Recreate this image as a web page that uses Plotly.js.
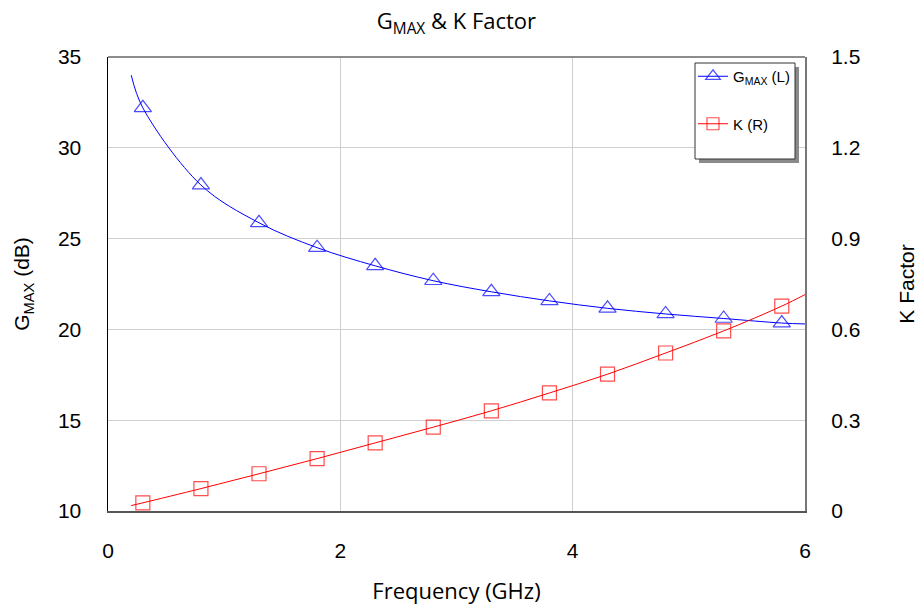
<!DOCTYPE html>
<html>
<head>
<meta charset="utf-8">
<script src="https://cdn.plot.ly/plotly-3.0.1.min.js"></script>
<style>html,body{margin:0;padding:0;background:#fff;}#chart{width:924px;height:608px;}</style>
</head>
<body>
<div id="chart"></div>
<script>
// Frequencies where markers are drawn (GHz)
const freq = [0.3, 0.8, 1.3, 1.8, 2.3, 2.8, 3.3, 3.8, 4.3, 4.8, 5.3, 5.8];
// GMAX values (dB) at marker frequencies
const gmax = [32.2, 27.95, 25.87, 24.5, 23.5, 22.68, 22.07, 21.57, 21.16, 20.85, 20.6, 20.35];
// K factor values at marker frequencies
const kfac = [0.027, 0.074, 0.123, 0.173, 0.225, 0.277, 0.331, 0.39, 0.452, 0.522, 0.595, 0.677];
// Curve end points (line runs from 0.2 to 6 GHz)
const freqStart = 0.2, freqEnd = 6.0;
const gmaxStart = 34.0, gmaxEnd = 20.3;
const kStart = 0.018, kEnd = 0.715;
// Axis ticks
const xTicks = [0, 2, 4, 6];
const yTicks = [10, 15, 20, 25, 30, 35];
const y2Ticks = [0, 0.3, 0.6, 0.9, 1.2, 1.5];
const y2TickText = ['0', '0.3', '0.6', '0.9', '1.2', '1.5'];

const lineX = [freqStart].concat(freq, [freqEnd]);
const gLine = [gmaxStart].concat(gmax, [gmaxEnd]);
const kLine = [kStart].concat(kfac, [kEnd]);
const triSizes = lineX.map((_, i) => (i === 0 || i === lineX.length - 1) ? 0 : 15);
const sqSizes = lineX.map((_, i) => (i === 0 || i === lineX.length - 1) ? 0 : 14);

const L = 108, R = 805, T = 57, B = 511, W = 924, H = 608;
const px = x => (x - L) / (R - L);
const py = y => (B - y) / (B - T);

const arial = 'Liberation Sans, Arial, sans-serif';
const segoe = 'Open Sans, Noto Sans, sans-serif';

const traces = [
  {
    x: lineX, y: gLine, name: 'G<sub>MAX</sub> (L)', legendgroup: 'g',
    mode: 'lines+markers', line: {color: '#0000ff', width: 1, shape: 'spline'},
    marker: {symbol: 'triangle-up-open', size: triSizes, color: '#0000ff', line: {color: '#0000ff', width: 1.2}},
    yaxis: 'y', hoverinfo: 'x+y'
  },
  {
    x: lineX, y: kLine, name: 'K (R)', legendgroup: 'k',
    mode: 'lines+markers', line: {color: '#ff0000', width: 1, shape: 'spline'},
    marker: {symbol: 'square-open', size: sqSizes, color: '#ff0000', line: {color: '#ff0000', width: 1.2}},
    yaxis: 'y2', hoverinfo: 'x+y'
  }
];

const layout = {
  width: W, height: H,
  margin: {l: L, r: W - R, t: T, b: H - B, pad: 0},
  paper_bgcolor: '#ffffff', plot_bgcolor: '#ffffff',
  font: {family: arial, size: 21, color: '#000'},
  title: {text: 'G<sub>MAX</sub> & K Factor', font: {family: segoe, size: 22, color: '#000'},
          x: 0.494, xanchor: 'center', y: 0.965, yanchor: 'middle'},
  showlegend: true,
  legend: {x: px(693), xanchor: 'left', y: py(60), yanchor: 'top',
           bgcolor: 'rgba(0,0,0,0)', borderwidth: 0,
           font: {family: arial, size: 15, color: '#000'},
           traceorder: 'grouped', tracegroupgap: 25},
  xaxis: {
    range: [0, 6], tickvals: xTicks, ticks: '', showgrid: true, gridcolor: '#cfcfcf', gridwidth: 1.3,
    zeroline: false, showline: true, linecolor: '#555', linewidth: 1.5, mirror: false,
    tickfont: {family: arial, size: 21}, ticklabelstandoff: 20,
    title: {text: 'Frequency (GHz)', font: {family: segoe, size: 22}, standoff: 23}
  },
  yaxis: {
    range: [10, 35], tickvals: yTicks, ticks: '', showgrid: true, gridcolor: '#cfcfcf', gridwidth: 1.3,
    zeroline: false, showline: true, linecolor: '#000', linewidth: 1.5,
    tickfont: {family: arial, size: 21}, ticklabelstandoff: 21,
    title: {text: 'G<sub>MAX</sub> (dB)', font: {family: arial, size: 21}, standoff: 22}
  },
  yaxis2: {
    range: [0, 1.5], tickvals: y2Ticks, ticktext: y2TickText, overlaying: 'y', side: 'right',
    ticks: '', showgrid: false, zeroline: false, showline: true, linecolor: '#777', linewidth: 2,
    tickfont: {family: arial, size: 21}, ticklabelstandoff: 20,
    title: {text: 'K Factor', font: {family: arial, size: 21}, standoff: 40}
  },
  shapes: [
    {type: 'line', xref: 'paper', yref: 'paper', x0: 0, x1: 1, y0: 1, y1: 1, line: {color: '#666', width: 1.5}},
    {type: 'rect', xref: 'paper', yref: 'paper', x0: px(699), x1: px(799), y0: py(163), y1: py(67),
     fillcolor: '#8a8a8a', line: {width: 0}},
    {type: 'rect', xref: 'paper', yref: 'paper', x0: px(695), x1: px(795), y0: py(159), y1: py(63),
     fillcolor: '#ffffff', line: {color: '#333', width: 1}}
  ]
};

Plotly.newPlot('chart', traces, layout, {displayModeBar: false, staticPlot: true});
</script>
</body>
</html>
